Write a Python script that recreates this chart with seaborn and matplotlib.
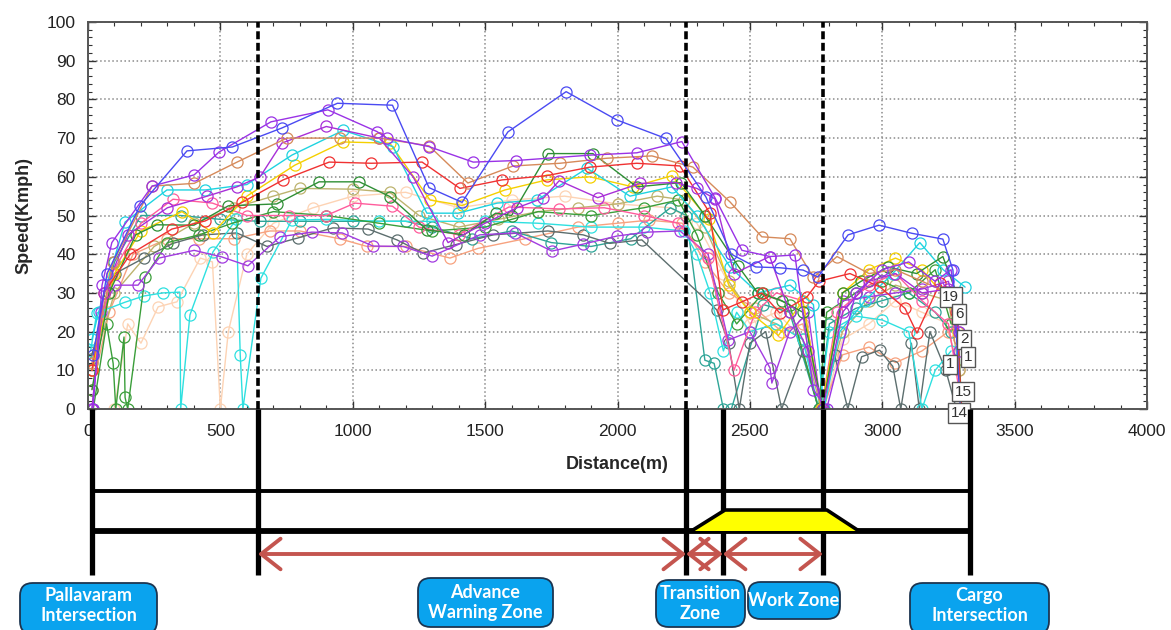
import matplotlib
matplotlib.use("Agg")
import matplotlib.pyplot as plt
from matplotlib.patches import Polygon, FancyBboxPatch
from matplotlib.ticker import MultipleLocator
import seaborn as sns

# ---- speed profiles (distance in m, speed in kmph), one pair per trip ----
blue_x = [20, 72, 196, 374, 545, 732, 942, 1150, 1288, 1413, 1586, 1806, 1997, 2183, 2334, 2430, 2522, 2613, 2701, 2757, 2871, 2988, 3112, 3229, 3267, 3295]
blue_y = [14, 35, 52.5, 66.7, 67.7, 72.6, 79, 78.5, 57.2, 53.4, 71.6, 82, 74.7, 69.9, 54.8, 40, 36.7, 36.5, 35.9, 34.1, 45, 47.5, 45.4, 43.9, 35.9, 0]

purple_x = [19, 53, 90, 242, 401, 495, 691, 906, 1091, 1129, 1288, 1455, 1616, 1896, 2073, 2243, 2368, 2470, 2576, 2670, 2740, 2790, 2900, 3000, 3100, 3200, 3260, 3290]
purple_y = [0, 32, 43, 57.6, 60.5, 66.4, 74.2, 77.3, 71.7, 70, 67.8, 63.8, 64.2, 65.6, 66.2, 69.1, 54.6, 41, 39.4, 39.8, 5, 0, 30, 36, 38, 33, 36, 20]

orange_x = [15, 95, 242, 401, 563, 751, 950, 1100, 1288, 1435, 1606, 1783, 1960, 2130, 2285, 2425, 2545, 2651, 2740, 2829, 2950, 3050, 3150, 3250, 3290]
orange_y = [12, 38, 57.6, 58.3, 63.8, 70, 70, 70, 68, 58.4, 62.8, 63.5, 64.8, 65.4, 62.5, 53.5, 44.5, 44, 34, 39.4, 35, 36, 33, 30, 18]

red_x = [15, 60, 160, 317, 443, 582, 737, 911, 1070, 1262, 1405, 1564, 1733, 1896, 2073, 2236, 2349, 2398, 2470, 2545, 2613, 2716, 2760, 2878, 2992, 3086, 3131, 3218, 3280, 3300]
red_y = [10, 30, 40, 46.5, 48.6, 53.4, 59.2, 63.8, 63.5, 63.8, 57, 59.2, 60.3, 62.5, 63.5, 62.8, 50.6, 25.6, 27.7, 30, 24.8, 29, 33, 35, 31.5, 26, 19.6, 32.5, 25, 0]

cyan_a_x = [15, 40, 140, 298, 443, 600, 770, 964, 1152, 1280, 1398, 1545, 1696, 1885, 2047, 2206, 2300, 2425, 2530, 2652, 2740, 2780, 2840, 2935, 3040, 3142, 3230, 3313]
cyan_a_y = [18, 25, 48.3, 56.6, 56.6, 58, 65.6, 72, 67.8, 50.6, 50.6, 53.2, 54, 62.2, 55, 57.4, 50, 36.7, 30, 32, 27, 0, 20, 28, 35, 43, 36, 31.5]

cyan_b_x = [10, 33, 140, 211, 283, 347, 350, 385, 472, 560, 575, 585, 653, 770, 900, 1100, 1300, 1500, 1700, 1900, 2100, 2250, 2300, 2350, 2400, 2450, 2500, 2600, 2700, 2760, 2800, 2900, 3000, 3100, 3150, 3200, 3260]
cyan_b_y = [15, 24.8, 27.6, 29.2, 30, 30.2, 0, 24.3, 40.6, 49, 14, 0, 33.8, 48.8, 49, 48.5, 48.5, 48.5, 48, 47, 47, 46, 40, 30, 15, 25, 20, 22, 18, 0, 20, 24, 23, 20, 0, 10, 15]

yellow_x = [15, 100, 200, 355, 472, 600, 781, 964, 1140, 1292, 1413, 1575, 1733, 1896, 2058, 2206, 2345, 2420, 2500, 2608, 2700, 2770, 2850, 2950, 3050, 3150, 3250, 3285]
yellow_y = [10, 35, 46, 51, 45.5, 55, 63, 69, 68.7, 54, 52.6, 56.6, 59.2, 60, 57.4, 60.3, 49, 32, 25, 19, 28, 0, 30, 36, 39, 36, 28, 20]

green_a_x = [15, 80, 180, 259, 400, 530, 713, 873, 1025, 1140, 1280, 1420, 1540, 1600, 1737, 1907, 2073, 2240, 2330, 2455, 2530, 2620, 2700, 2775, 2850, 2920, 3022, 3130, 3229, 3280, 3300]
green_a_y = [5, 30, 45, 47.6, 47.5, 52.5, 53, 58.7, 58.7, 54.9, 46.3, 45, 50.6, 50, 66, 66, 57.4, 58.5, 50, 37, 30, 28, 25, 0, 30, 33, 36.7, 35, 39.4, 30, 0]

green_b_x = [20, 70, 95, 105, 136, 140, 150, 215, 300, 420, 545, 700, 900, 1100, 1300, 1500, 1700, 1900, 2100, 2230, 2300, 2380, 2450, 2550, 2650, 2760, 2790, 2900, 3000, 3100, 3200, 3260]
green_b_y = [0, 22, 11.8, 0, 18.6, 3, 0, 34, 43, 45, 48, 51, 50, 48, 46, 47, 51, 50, 52, 54, 45, 30, 22, 30, 27, 0, 25, 30, 33, 30, 36, 22]

gray_x = [10, 102, 211, 321, 434, 562, 676, 793, 925, 1058, 1167, 1265, 1390, 1530, 1737, 1870, 1971, 2092, 2375, 2420, 2460, 2500, 2560, 2620, 2700, 2760, 2820, 2870, 2922, 2990, 3040, 3070, 3110, 3140, 3180, 3240, 3280]
gray_y = [13, 35, 39, 42.8, 45, 45.5, 42, 44.2, 46.8, 46.5, 43.7, 40.3, 42.5, 45, 46, 45, 42.8, 43.7, 25.6, 17, 0, 17, 20, 0, 15, 0, 14, 0, 13.5, 15.2, 11, 0, 17, 0, 20, 10, 0]

pink_x = [15, 90, 200, 321, 470, 600, 760, 900, 1008, 1150, 1250, 1400, 1590, 1780, 1950, 2100, 2230, 2340, 2440, 2520, 2600, 2700, 2770, 2830, 2950, 3050, 3150, 3250, 3290]
pink_y = [10, 35, 48, 54.2, 53.2, 50, 50, 50, 53.2, 52.4, 47, 45, 52.2, 51.7, 52, 50, 48, 39, 10, 25, 30, 28, 0, 25, 32, 35, 28, 22, 5]

violet_x = [15, 50, 102, 189, 268, 401, 505, 604, 725, 845, 960, 1077, 1190, 1300, 1480, 1613, 1752, 1870, 1998, 2111, 2236, 2342, 2418, 2500, 2576, 2583, 2650, 2720, 2770, 2850, 2950, 3050, 3150, 3250, 3290]
violet_y = [0, 25, 32, 32, 39, 41, 39.3, 37, 44.5, 45.7, 45.5, 42.1, 42, 39.5, 45, 45.5, 40.8, 42.6, 44.7, 45.7, 46, 40, 17.8, 20, 10.6, 6.7, 20, 25, 0, 28, 29, 30, 31, 33, 20]

khaki_x = [15, 100, 250, 400, 550, 700, 800, 1000, 1140, 1250, 1400, 1550, 1700, 1850, 2000, 2150, 2250, 2330, 2420, 2500, 2600, 2700, 2770, 2850, 2950, 3050, 3150, 3250, 3290]
khaki_y = [10, 30, 42, 48, 52, 55, 57, 56.8, 56, 50, 47, 49, 51, 52, 53, 55, 54, 47, 33, 25, 22, 18, 0, 20, 28, 32, 30, 28, 10]

salmon_x = [15, 80, 170, 300, 420, 550, 687, 800, 950, 1054, 1200, 1367, 1473, 1650, 1850, 2000, 2120, 2245, 2330, 2420, 2520, 2620, 2700, 2775, 2850, 2950, 3050, 3150, 3250, 3290]
salmon_y = [5, 25, 40, 44, 44, 44, 46, 46, 44, 42, 42, 39, 41.5, 44, 47, 48, 48.8, 48, 38, 30, 26, 20, 22, 0, 14, 16, 12, 15, 20, 10]

peach_x = [100, 150, 200, 265, 336, 424, 470, 500, 530, 600, 700, 850, 1000, 1200, 1400, 1600, 1800, 2000, 2200, 2300, 2400, 2500, 2600, 2700, 2780, 2850, 2950, 3050, 3150, 3250]
peach_y = [0, 22, 17, 26.4, 27.7, 39, 38, 0, 20, 40, 48, 52, 55, 56, 52, 54, 55, 53, 52, 48, 35, 22, 25, 18, 0, 18, 22, 28, 25, 22]

teal_x = [15, 100, 200, 350, 500, 650, 800, 1000, 1200, 1300, 1450, 1600, 1750, 1900, 2050, 2200, 2260, 2330, 2365, 2400, 2430, 2550, 2650, 2760, 2800, 2900, 3000, 3100, 3200, 3260]
teal_y = [10, 38, 50, 50, 49, 48.5, 48.5, 48.5, 48.5, 47, 44, 46, 43, 42, 44, 52, 50, 12.6, 11.8, 0, 0, 27, 25, 0, 22, 26, 28, 30, 25, 20]

magenta_x = [15, 60, 150, 300, 450, 562, 650, 732, 900, 1100, 1228, 1360, 1500, 1620, 1720, 1780, 1925, 2085, 2220, 2300, 2368, 2440, 2575, 2650, 2720, 2775, 2850, 2950, 3050, 3150, 3250, 3290]
magenta_y = [0, 30, 45, 52, 55, 57.4, 60, 68.7, 73, 70, 60, 43, 48, 52, 54.5, 59, 54.6, 58.3, 58.5, 57, 54.3, 35, 39.4, 25, 15, 0, 25, 33, 35, 30, 31, 15]

# trip number tags at the end of the profiles
tag_text = ["19", "6", "2", "1", "1", "15", "14"]
tag_x = [3259, 3290, 3310, 3325, 3255, 3305, 3290]
tag_y = [29, 24.5, 18, 13.5, 11.5, 4.5, -1]

# road layout (distance in m)
zone_edges = [15, 642, 2259, 2398, 2776, 3331]
dashed_edges = [642, 2259, 2776]
zone_names = ["Pallavaram\nIntersection", "Advance\nWarning Zone", "Transition\nZone", "Work Zone", "Cargo\nIntersection"]

trips = [
    (peach_x, peach_y, "#fdd3b4"),
    (salmon_x, salmon_y, "#f7a27f"),
    (khaki_x, khaki_y, "#bdb36e"),
    (teal_x, teal_y, "#2ea597"),
    (gray_x, gray_y, "#5c6e6e"),
    (cyan_b_x, cyan_b_y, "#2ee0e0"),
    (green_b_x, green_b_y, "#3a9e3a"),
    (violet_x, violet_y, "#a23be0"),
    (pink_x, pink_y, "#ff5c9c"),
    (yellow_x, yellow_y, "#f5d000"),
    (cyan_a_x, cyan_a_y, "#1fd3e0"),
    (green_a_x, green_a_y, "#2f8f35"),
    (red_x, red_y, "#f03232"),
    (magenta_x, magenta_y, "#a82fd8"),
    (orange_x, orange_y, "#d68a5a"),
    (purple_x, purple_y, "#9a32e6"),
    (blue_x, blue_y, "#4a4af2"),
]

sns.set_theme(style="ticks")
plt.rcParams["font.family"] = ["Liberation Sans", "DejaVu Sans"]

W, H = 1171, 630
fig = plt.figure(figsize=(W / 100, H / 100), dpi=100)
ax_l, ax_r, ax_t, ax_b = 88, 1147, 22, 409
ax = fig.add_axes([ax_l / W, 1 - ax_b / H, (ax_r - ax_l) / W, (ax_b - ax_t) / H])

for xs, ys, c in trips:
    sns.lineplot(x=xs, y=ys, ax=ax, color=c, estimator=None, sort=False,
                 marker="o", markersize=8, markerfacecolor="none",
                 markeredgecolor=c, markeredgewidth=0.9, linewidth=1.0)

for d in dashed_edges:
    ax.axvline(d, color="black", lw=2.6, ls=(0, (2.2, 1.0)), zorder=5)

for t, tx, ty in zip(tag_text, tag_x, tag_y):
    ax.text(tx, ty, t, fontsize=11, color="#333333", ha="center", va="center",
            zorder=8, clip_on=False,
            bbox=dict(boxstyle="square,pad=0.18", fc="white", ec="#555555", lw=1))

ax.set_xlim(0, 4000)
ax.set_ylim(0, 100)
ax.xaxis.set_major_locator(MultipleLocator(500))
ax.xaxis.set_minor_locator(MultipleLocator(100))
ax.yaxis.set_major_locator(MultipleLocator(10))
ax.yaxis.set_minor_locator(MultipleLocator(2))
ax.grid(True, which="major", ls=":", color="#8a8a8a", lw=1.1)
ax.tick_params(which="both", direction="in", top=True, right=True, colors="#333333",
               labelsize=12.5, labelcolor="#222222")
ax.tick_params(which="major", length=6, width=1)
ax.tick_params(which="minor", length=3, width=0.8)
ax.tick_params(axis="x", pad=11)
ax.tick_params(axis="y", pad=9)
for s in ax.spines.values():
    s.set_color("#555555")
    s.set_linewidth(1.4)
ax.set_xlabel("Distance(m)", fontsize=13, fontweight="bold", labelpad=12)
ax.set_ylabel("Speed(Kmph)", fontsize=13, fontweight="bold", labelpad=10)

# ---- road schematic below the chart, sharing the distance scale ----
sch = fig.add_axes([ax_l / W, 0, (ax_r - ax_l) / W, (H - ax_b) / H], zorder=3)
sch.set_xlim(0, 4000)
sch.set_ylim(0, H - ax_b)
sch.axis("off")
sch.patch.set_alpha(0)

m_per_px = 4000 / (ax_r - ax_l)
road_top, road_bot = H - 491, H - 531
sch.vlines(zone_edges, H - 575, H - ax_b, color="black", lw=3.8, clip_on=False)
sch.hlines(road_top, zone_edges[0], zone_edges[-1], color="black", lw=2.8)
sch.hlines(road_bot, zone_edges[0], zone_edges[-1], color="black", lw=4.2)

taper_top = H - 510
cone = [(zone_edges[2] + 20, road_bot), (zone_edges[3] + 8, taper_top),
        (zone_edges[4] + 15, taper_top), (zone_edges[4] + 136, road_bot)]
sch.add_patch(Polygon(cone, closed=True, fc="#ffff00", ec="none", zorder=4))
sch.plot([p[0] for p in cone], [p[1] for p in cone], color="black", lw=2.6,
         solid_capstyle="round", zorder=5)

arrow_y = H - 554
for a, b in zip(zone_edges[1:4], zone_edges[2:5]):
    sch.annotate("", xy=(a, arrow_y), xytext=(b, arrow_y),
                 arrowprops=dict(arrowstyle="<->,head_length=0.7,head_width=0.55",
                                 color="#c4554f", lw=2.8, shrinkA=0, shrinkB=0,
                                 mutation_scale=20))

# zone name boxes: (left px, right px, top px, bottom px)
box_px = [(20, 157, 583, 634), (418, 553, 578, 627), (656, 745, 580, 627),
          (748, 840, 582, 619), (910, 1049, 583, 634)]
for name, (l, r, t, b) in zip(zone_names, box_px):
    x0 = (l - ax_l) * m_per_px
    x1 = (r - ax_l) * m_per_px
    patch = FancyBboxPatch((x0, H - b), x1 - x0, b - t,
                           boxstyle="round,pad=0,rounding_size=48",
                           mutation_aspect=1 / m_per_px,
                           fc="#0aa3ee", ec="#1c3550", lw=1.3, clip_on=False, zorder=6)
    sch.add_patch(patch)
    cy = H - (t + min(b, 628)) / 2
    sch.text((x0 + x1) / 2, cy, name, ha="center", va="center", color="white",
             fontsize=13, fontweight="bold",
             family=["Liberation Sans Narrow", "Lato", "DejaVu Sans"],
             linespacing=1.15, zorder=7, clip_on=False)

fig.savefig("out.png", dpi=100)
